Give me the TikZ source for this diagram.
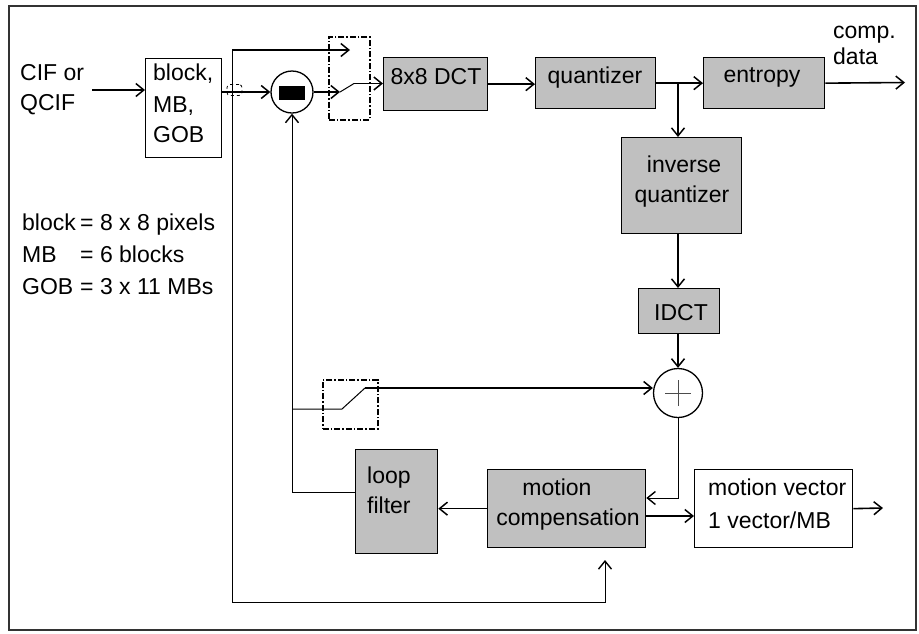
\documentclass[tikz,border=0pt]{standalone}
\usepackage{fontspec}
\setmainfont{Liberation Sans}
\usetikzlibrary{arrows.meta}
\definecolor{boxgray}{HTML}{C0C0C0}
\tikzset{
  tx/.style={inner sep=0pt, font=\fontsize{23}{28}\selectfont},
  txl/.style={tx, anchor=base west},
  txc/.style={tx, anchor=base},
  gbox/.style={draw, fill=boxgray, line width=1.3pt, inner sep=0pt, anchor=north west},
  wbox/.style={draw, fill=white, line width=1.3pt, inner sep=0pt, anchor=north west},
  arr/.style={-{Straight Barb[length=8pt,width=13pt,line width=1.5pt]}, line width=1.6pt},
  arrthin/.style={-{Straight Barb[length=8pt,width=13pt,line width=1.4pt]}, line width=1pt},
  thinline/.style={line width=1pt},
  ddash/.style={draw, line width=1.8pt, dash pattern=on 6pt off 2pt on 1.5pt off 2pt, inner sep=0pt, anchor=north west},
}
\begin{document}
\begin{tikzpicture}[x=1pt,y=-1pt]
\useasboundingbox (0,0) rectangle (919,633);
\draw[line width=1.2pt, black!80] (9,6) rectangle (916,630);

% boxes
\node[wbox, minimum width=76pt, minimum height=99pt] (blk) at (145,58) {};
\node[gbox, minimum width=104pt, minimum height=53pt] (dct) at (383,57) {};
\node[gbox, minimum width=120pt, minimum height=51pt] (quant) at (535,57) {};
\node[gbox, minimum width=121pt, minimum height=51pt] (entropy) at (703,57) {};
\node[gbox, minimum width=120pt, minimum height=96pt] (iq) at (621,137) {};
\node[gbox, minimum width=81pt, minimum height=45pt] (idct) at (638,288) {};
\node[gbox, minimum width=82pt, minimum height=104pt] (lf) at (355,449) {};
\node[gbox, minimum width=158pt, minimum height=78pt] (mc) at (487,469) {};
\node[wbox, minimum width=158pt, minimum height=78pt] (mv) at (694,469) {};

% circles
\node[circle, draw, line width=1.3pt, minimum size=42pt, inner sep=0pt] (sub) at (292,92) {};
\node[fill=black, minimum width=26pt, minimum height=14pt, inner sep=0pt] (subbar) at (292,93) {};
\node[circle, draw, line width=1.3pt, minimum size=49pt, inner sep=0pt] (plus) at (678,393) {};
\draw[line width=0.8pt, black!70] ([xshift=-13pt]plus.center) -- ([xshift=13pt]plus.center);
\draw[line width=0.8pt, black!70] ([yshift=-13pt]plus.center) -- ([yshift=13pt]plus.center);

% switch frames
\node[ddash, minimum width=41pt, minimum height=83pt] (sw1) at (328,36) {};
\node[ddash, minimum width=55pt, minimum height=49pt] (sw2) at (322,379) {};

% tap mark
\node[draw, dashed, line width=0.8pt, rounded corners=3pt, minimum width=15pt, minimum height=11pt, inner sep=0pt] (tap) at (234.5,90) {};

% coordinates
\coordinate (cifout) at (92,90);
\coordinate (bypass) at (232,50);
\coordinate (bypassEnd) at (350,50);
\coordinate (bypassBot) at (232,602);
\coordinate (mcin) at (605,560);
\coordinate (s1a) at (340,92);
\coordinate (s1b) at (354,83.5);
\coordinate (br) at (678,82.5);
\coordinate (out) at (905,82.5);
\coordinate (pc) at (678,498);
\coordinate (lfl) at (355,492);
\coordinate (s2in) at (292,409);
\coordinate (s2a) at (342,409);
\coordinate (s2b) at (365,388);
\coordinate (mcr) at (645,516);
\coordinate (mvout) at (883,508);

% connectors
\draw[arr] (cifout) -- (cifout -| blk.west);
\draw[arr] (blk.east |- sub) -- (sub.west);
\draw[thinline] (bypassBot) -- (bypass);
\draw[arr] (bypass) -- (bypassEnd);
\draw[arr] (sub.east) -- (s1a);
\draw[thinline] (s1a) -- (s1b);
\draw[arr] (s1b) -- (s1b -| dct.west);
\draw[arr] (dct.east) -- (dct.east -| quant.west);
\draw[arr] (quant.east) -- (quant.east -| entropy.west);
\draw[arr] (entropy.east) -- (out);
\draw[arr] (br) -- (br |- iq.north);
\draw[arr] (br |- iq.south) -- (br |- idct.north);
\draw[arr] (br |- idct.south) -- (plus.north);
\draw[arrthin] (plus.south) -- (pc) -- (pc -| mc.east);
\draw[arr] (mc.west) -- (mc.west -| lf.east);
\draw[arrthin] (lfl) -- (lfl -| sub) -- (sub.south);
\draw[thinline] (s2in) -- (s2a) -- (s2b);
\draw[arr] (s2b) -- (s2b -| plus.west);
\draw[arr] (mcr) -- (mcr -| mv.west);
\draw[arr] (mv.east) -- (mvout);
\draw[arrthin] (bypassBot) -- (bypassBot -| mcin) -- (mcin);

% texts
\node[txl] (t1) at (20,80) {CIF or};
\node[txl] (t2) at (20,110) {QCIF};
\node[txl] (t3) at (153,80) {block,};
\node[txl] (t4) at (153,112) {MB,};
\node[txl] (t5) at (153,142) {GOB};
\node[txl] (t6) at (22,230) {block};
\node[txl] (t6b) at (80,230) {= 8 x 8 pixels};
\node[txl] (t7) at (22,262) {MB};
\node[txl] (t7b) at (80,262) {= 6 blocks};
\node[txl] (t8) at (22,294) {GOB};
\node[txl] (t8b) at (80,294) {= 3 x 11 MBs};
\node[txc] (t9) at (436,84) {8x8 DCT};
\node[txc] (t10) at (595,83) {quantizer};
\node[txc] (t11) at (762,82) {entropy};
\node[txl] (t12) at (833,38) {comp.};
\node[txl] (t13) at (833,64) {data};
\node[txc] (t14) at (684,172) {inverse};
\node[txc] (t15) at (682,202) {quantizer};
\node[txc] (t16) at (681,320) {IDCT};
\node[txl] (t17) at (367,483) {loop};
\node[txl] (t18) at (367,513) {filter};
\node[txc] (t19) at (557,495) {motion};
\node[txc] (t20) at (568,525) {compensation};
\node[txl] (t21) at (708,495) {motion vector};
\node[txl] (t22) at (708,528) {1 vector/MB};
\end{tikzpicture}
\end{document}
